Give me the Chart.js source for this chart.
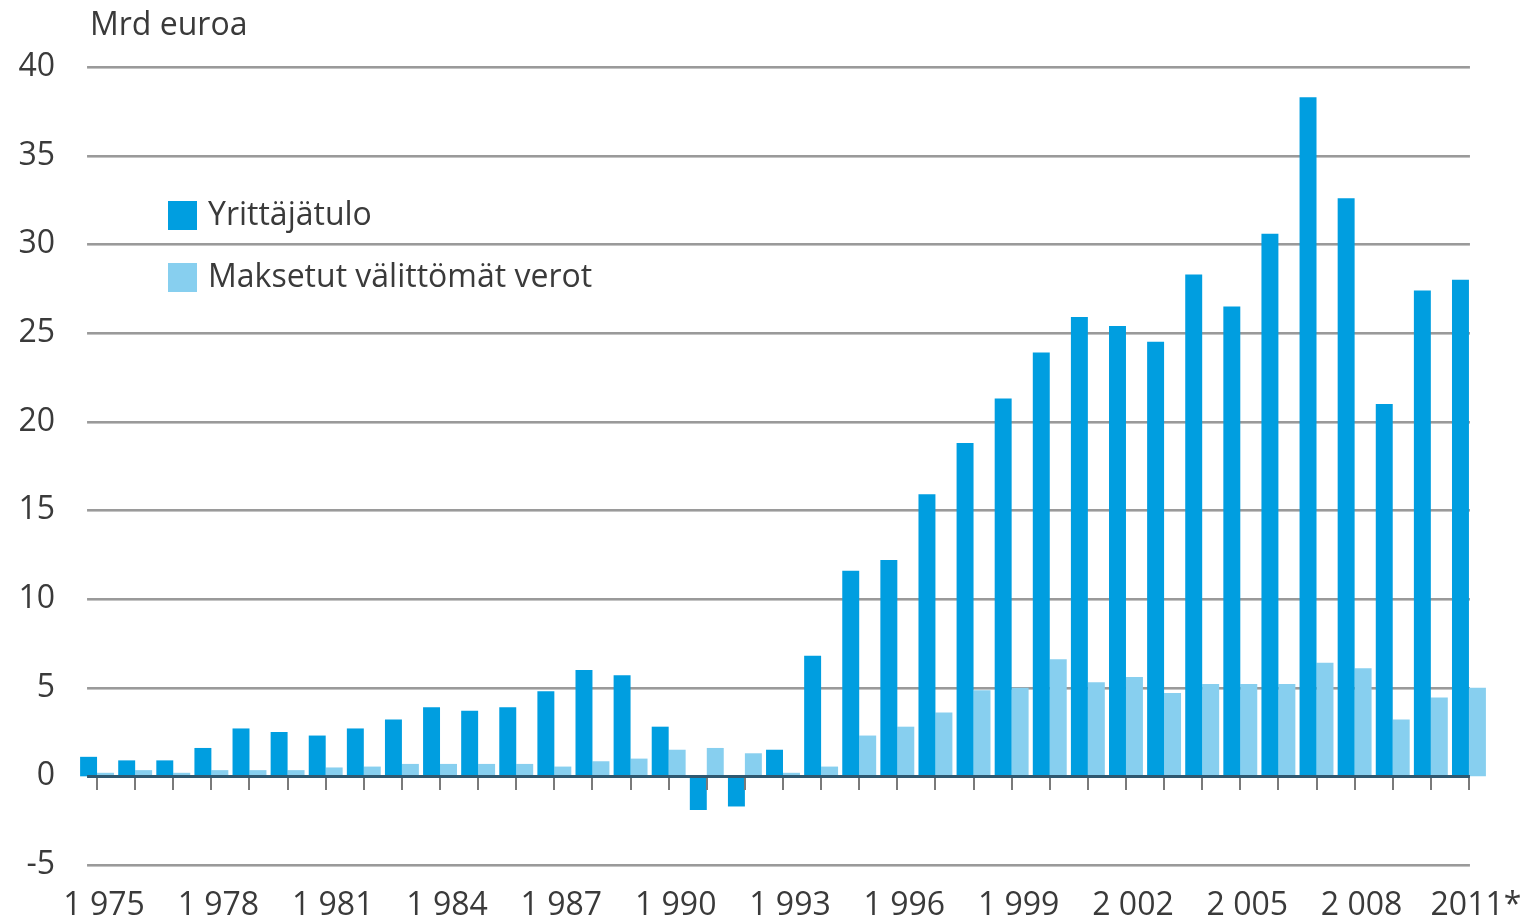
<!DOCTYPE html>
<html>
<head>
<meta charset="utf-8">
<script src="https://cdn.jsdelivr.net/npm/chart.js@4.4.1/dist/chart.umd.min.js"></script>
<style>
  html, body { margin: 0; padding: 0; background: #fff; }
  #wrap { width: 1526px; height: 924px; }
</style>
</head>
<body>
<div id="wrap"><canvas id="c" width="1526" height="924"></canvas></div>
<script>
var years = [];
for (var y = 1975; y <= 2011; y++) years.push(String(y));

var yearLabels = ["1 975", "1 978", "1 981", "1 984", "1 987", "1 990", "1 993",
                  "1 996", "1 999", "2 002", "2 005", "2 008", "2011*"];

var yrittajatulo = [1.1, 0.9, 0.9, 1.6, 2.7, 2.5, 2.3, 2.7, 3.2, 3.9,
                    3.7, 3.9, 4.8, 6.0, 5.7, 2.8, -1.9, -1.7, 1.5, 6.8,
                    11.6, 12.2, 15.9, 18.8, 21.3, 23.9, 25.9, 25.4, 24.5, 28.3,
                    26.5, 30.6, 38.3, 32.6, 21.0, 27.4, 28.0];

var verot = [0.2, 0.35, 0.2, 0.35, 0.35, 0.35, 0.5, 0.55, 0.7, 0.7,
             0.7, 0.7, 0.55, 0.85, 1.0, 1.5, 1.6, 1.3, 0.2, 0.55,
             2.3, 2.8, 3.6, 4.85, 5.0, 6.6, 5.3, 5.6, 4.7, 5.2,
             5.2, 5.2, 6.4, 6.1, 3.2, 4.45, 5.0];

var seriesNames = ["Yrittäjätulo", "Maksetut välittömät verot"];
var colors = ["#009ee0", "#87cfef"];
var textColor = "#3a3a3a";
var fontFamily = "'Open Sans', 'Noto Sans', sans-serif";

var decor = {
  id: "decor",
  beforeDatasetsDraw: function(chart) {
    var ctx = chart.ctx, xs = chart.scales.x, ys = chart.scales.y;
    var left = xs.getPixelForValue(0) - 10;
    var right = xs.getPixelForValue(years.length - 1) + 1;
    ctx.save();
    ys.ticks.forEach(function(t) {
      if (t.value === 0) return;
      var py = Math.round(ys.getPixelForValue(t.value));
      ctx.fillStyle = "#9a9a9a";
      ctx.fillRect(left, py - 1, right - left, 2);
      ctx.fillStyle = "#c4c4c4";
      ctx.fillRect(left, py + 1, right - left, 1);
    });
    ctx.restore();
  },
  afterDatasetsDraw: function(chart) {
    var ctx = chart.ctx, xs = chart.scales.x, ys = chart.scales.y;
    var left = xs.getPixelForValue(0) - 10;
    var right = xs.getPixelForValue(years.length - 1) + 1;
    var y0 = Math.round(ys.getPixelForValue(0));
    ctx.save();
    ctx.fillStyle = "#2f5870";
    ctx.fillRect(left, y0 - 1, right - left, 3);
    ctx.fillStyle = "#7a7a7a";
    for (var i = 0; i < years.length; i++) {
      var px = Math.round(xs.getPixelForValue(i));
      ctx.fillRect(px - 1, y0 + 2, 2, 12);
    }
    // title
    ctx.fillStyle = textColor;
    ctx.textBaseline = "middle";
    ctx.textAlign = "left";
    ctx.font = "32px " + fontFamily;
    ctx.fillText("Mrd euroa", 90, 26);
    // legend
    ctx.font = "32px " + fontFamily;
    var ly = [215, 277];
    for (var k = 0; k < 2; k++) {
      ctx.fillStyle = colors[k];
      ctx.fillRect(168, ly[k] - 14, 29, 29);
      ctx.fillStyle = textColor;
      ctx.fillText(seriesNames[k], 208, ly[k] + 1);
    }
    ctx.restore();
  }
};

new Chart(document.getElementById("c"), {
  type: "bar",
  data: {
    labels: years,
    datasets: [
      { label: seriesNames[0], data: yrittajatulo, backgroundColor: colors[0],
        categoryPercentage: 0.89, barPercentage: 1.0 },
      { label: seriesNames[1], data: verot, backgroundColor: colors[1],
        categoryPercentage: 0.89, barPercentage: 1.0 }
    ]
  },
  options: {
    responsive: false,
    animation: false,
    devicePixelRatio: 1,
    layout: { padding: { top: 67, right: 38, left: 0, bottom: 0 } },
    plugins: { legend: { display: false }, tooltip: { enabled: false } },
    scales: {
      x: {
        grid: { display: false, drawTicks: false },
        border: { display: false },
        afterFit: function(s) { s.height = 59; s.paddingLeft = 0; s.paddingRight = 0; },
        ticks: {
          autoSkip: false, maxRotation: 0, padding: 22, labelOffset: 7,
          color: textColor, font: { size: 32, family: fontFamily },
          callback: function(v, i) { return i % 3 === 0 ? yearLabels[i / 3] : ""; }
        }
      },
      y: {
        min: -5, max: 40,
        grid: { display: false, drawTicks: false },
        border: { display: false },
        afterFit: function(s) { s.width = 78; },
        ticks: {
          stepSize: 5, padding: 23, color: textColor,
          font: { size: 32, family: fontFamily }
        }
      }
    }
  },
  plugins: [decor]
});
</script>
</body>
</html>
